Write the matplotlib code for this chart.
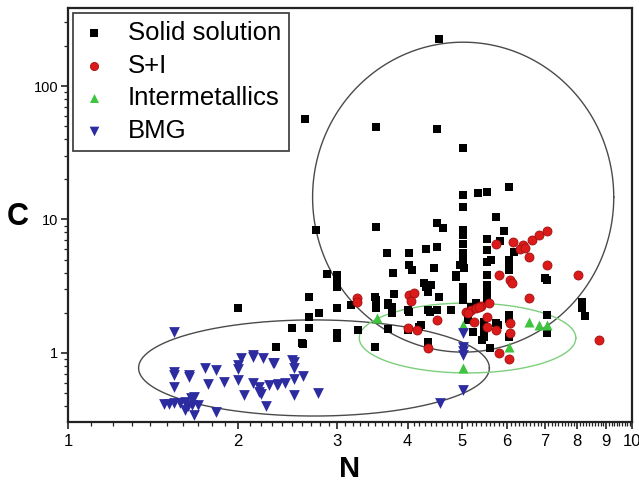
import numpy as np
import matplotlib.pyplot as plt
from matplotlib.ticker import FixedLocator, FixedFormatter, LogLocator, NullFormatter

plt.rcParams['font.family'] = ['Liberation Sans', 'DejaVu Sans']

# Solid solution (N, C)
ss_n = [2.63, 4.54, 3.52, 4.52, 5.02, 5.02, 5.34, 5.54, 6.05, 5.02, 5.73, 2.75, 3.52, 4.52,
        4.63, 5.02, 5.02, 5.02, 5.02, 5.02, 5.54, 5.92, 5.84, 3.68, 4.03, 4.31, 4.52, 4.03,
        4.08, 4.46, 4.96, 5.04, 3.77, 4.88, 4.28, 4.40, 5.02, 5.02, 3.78, 3.50, 4.35, 4.54,
        5.54, 5.54, 5.54, 5.54, 5.63, 6.05, 6.05, 6.19, 7.00, 5.54, 5.54, 2.88, 3.00, 3.00,
        3.00, 2.67, 2.79, 2.67, 2.67, 2.60, 3.00, 3.00, 3.00, 3.17, 3.27, 3.52, 3.52, 3.70,
        3.76, 3.70, 3.50, 4.00, 4.00, 4.19, 4.35, 4.52, 4.31, 4.78, 4.88, 5.29, 5.13, 5.23,
        5.47, 5.47, 5.47, 5.43, 5.54, 5.78, 5.61, 6.05, 6.05, 7.06, 7.06, 7.06, 8.14, 8.14,
        8.27, 2.50, 2.34, 2.61, 2.00, 5.19, 5.75, 6.05, 3.76, 3.70, 4.23, 4.38, 4.35, 6.05,
        5.02, 4.03]
ss_c = [56.6, 224, 49.4, 47.6, 34.3, 15.3, 15.8, 16.1, 17.5, 12.4, 10.4, 8.36, 8.8, 9.4,
        8.6, 8.4, 7.6, 6.6, 5.6, 4.9, 7.2, 8.2, 6.9, 5.6, 5.6, 5.97, 6.2, 4.56,
        4.2, 4.33, 4.56, 4.3, 3.97, 3.7, 3.34, 3.23, 3.1, 2.8, 2.76, 2.63, 2.86, 2.63,
        5.9, 4.8, 3.84, 3.23, 5.0, 5.0, 4.56, 5.7, 3.65, 2.6, 2.9, 3.9, 3.84, 3.4,
        3.1, 2.63, 1.99, 1.86, 1.54, 1.19, 2.17, 1.41, 1.3, 2.29, 1.49, 2.5, 2.17, 2.37,
        2.2, 1.51, 1.11, 2.1, 1.49, 1.57, 2.1, 2.1, 3.1, 2.1, 3.84, 2.37, 1.77, 1.44,
        1.71, 1.49, 1.32, 1.25, 2.5, 1.62, 1.09, 1.93, 1.32, 3.55, 1.93, 1.41, 2.41, 2.17,
        1.89, 1.54, 1.11, 1.17, 2.17, 2.21, 1.68, 1.80, 1.99, 2.29, 1.62, 2.03, 1.21, 4.2,
        2.5, 2.03]

# S+I
si_n = [3.26, 3.26, 4.03, 4.11, 4.06, 5.73, 6.14, 6.40, 6.32, 6.46, 6.64, 6.84, 7.06, 6.56,
        7.06, 5.82, 6.07, 6.12, 6.56, 8.03, 8.74, 4.52, 4.00, 4.15, 4.35, 5.07, 5.18, 5.29,
        5.41, 5.57, 5.12, 5.35, 5.25, 5.54, 5.75, 6.07, 6.07, 5.82, 6.05, 5.54]
si_c = [2.6, 2.4, 2.72, 2.81, 2.45, 6.5, 6.8, 6.4, 6.0, 6.1, 7.0, 7.6, 8.2, 5.2,
        4.56, 3.84, 3.5, 3.34, 2.6, 3.84, 1.25, 1.77, 1.54, 1.49, 1.09, 2.03, 2.10, 2.17,
        2.25, 2.37, 2.0, 2.2, 1.71, 1.57, 1.49, 1.68, 1.41, 1.0, 0.9, 1.86]

# Intermetallics
im_n = [3.53, 5.02, 5.02, 6.05, 6.56, 6.84, 7.06]
im_c = [1.83, 1.62, 0.77, 1.11, 1.71, 1.62, 1.62]

# BMG
bmg_n = [1.54, 1.54, 1.54, 1.54, 1.64, 1.64, 1.75, 1.83, 1.77, 1.89, 2.00, 2.00, 2.00, 2.03,
         2.05, 2.13, 2.22, 2.13, 2.18, 2.18, 2.24, 2.32, 2.27, 2.36, 2.43, 2.52, 2.52, 2.52,
         2.52, 2.61, 2.77, 1.83, 1.67, 1.48, 1.51, 1.54, 1.58, 1.61, 1.65, 1.67, 1.63, 1.61,
         1.66, 1.70, 2.13, 2.31, 2.50, 2.35, 2.20, 4.57, 5.02, 5.02, 5.02, 5.02, 5.02]
bmg_c = [1.44, 0.72, 0.68, 0.556, 0.684, 0.66, 0.77, 0.746, 0.585, 0.61, 0.81, 0.76, 0.628, 0.918,
         0.485, 0.966, 0.918, 0.596, 0.556, 0.51, 0.40, 0.84, 0.576, 0.585, 0.596, 0.856, 0.77, 0.485,
         0.64, 0.67, 0.50, 0.36, 0.343, 0.415, 0.415, 0.42, 0.42, 0.43, 0.46, 0.47, 0.40, 0.374,
         0.41, 0.408, 0.93, 0.84, 0.886, 0.576, 0.49, 0.42, 0.528, 1.41, 1.11, 1.03, 0.966]

# guide ellipses: centre (N, C), half widths in decades, colour
ellipses = [
    (5.02, 14.7, 0.267, 1.161, '#4a4a4a'),
    (2.73, 0.772, 0.311, 0.36, '#4a4a4a'),
    (5.11, 1.295, 0.192, 0.262, '#7ccf7c'),
]

fig = plt.figure(figsize=(6.39, 4.83), dpi=100)
ax = fig.add_axes([0.1064, 0.1263, 0.8826, 0.8571])
ax.set_xscale('log')
ax.set_yscale('log')

t = np.linspace(0, 2 * np.pi, 400)
for cx, cy, a, b, col in ellipses:
    ax.plot(10 ** (np.log10(cx) + a * np.cos(t)), 10 ** (np.log10(cy) + b * np.sin(t)),
            color=col, lw=1.0, zorder=1)

ax.scatter(ss_n, ss_c, marker='s', s=38, c='black', lw=0, zorder=2, label='Solid solution')
ax.scatter(si_n, si_c, marker='o', s=42, c='#dd1a1a', edgecolors='#a01010', lw=0.6,
           zorder=3, label='S+I')
ax.scatter(im_n, im_c, marker='^', s=52, c='#3fc43f', lw=0, zorder=4, label='Intermetallics')
ax.scatter(bmg_n, bmg_c, marker='v', s=60, c='#2c2ca0', lw=0, zorder=5, label='BMG')

ax.set_xlim(1, 10)
ax.set_ylim(0.304, 384)

xt = list(range(1, 11))
ax.xaxis.set_major_locator(FixedLocator(xt))
ax.xaxis.set_major_formatter(FixedFormatter([str(v) for v in xt]))
ax.xaxis.set_minor_locator(FixedLocator(np.arange(1.1, 10.0, 0.1)))
ax.xaxis.set_minor_formatter(NullFormatter())
ax.yaxis.set_major_locator(FixedLocator([1, 10, 100]))
ax.yaxis.set_major_formatter(FixedFormatter(['1', '10', '100']))
ax.yaxis.set_minor_locator(LogLocator(base=10, subs=np.arange(2, 10)))
ax.yaxis.set_minor_formatter(NullFormatter())

ax.tick_params(which='both', direction='out', top=False, right=False, color='#222222')
ax.tick_params(which='major', length=5, width=1.2)
ax.tick_params(which='minor', length=3, width=0.9)
ax.tick_params(axis='x', labelsize=12, pad=4)
ax.tick_params(axis='y', labelsize=10.5, pad=2)
for sp in ax.spines.values():
    sp.set_linewidth(1.6)
    sp.set_color('#222222')

ax.set_xlabel('N', fontsize=21, fontweight='bold', labelpad=4)
ax.set_ylabel('C', fontsize=22, fontweight='bold', rotation=0, va='center', ha='center')
ax.yaxis.set_label_coords(-0.089, 0.495)

leg = ax.legend(loc='upper left', bbox_to_anchor=(0.009, 0.988), borderaxespad=0,
                fontsize=18.5, fancybox=False, edgecolor='#444444', framealpha=1,
                handlelength=1.0, handletextpad=0.8, labelspacing=0.33, borderpad=0.32,
                scatterpoints=1, markerscale=0.9)
leg.get_frame().set_linewidth(1.3)

fig.savefig('out.png', dpi=100)
